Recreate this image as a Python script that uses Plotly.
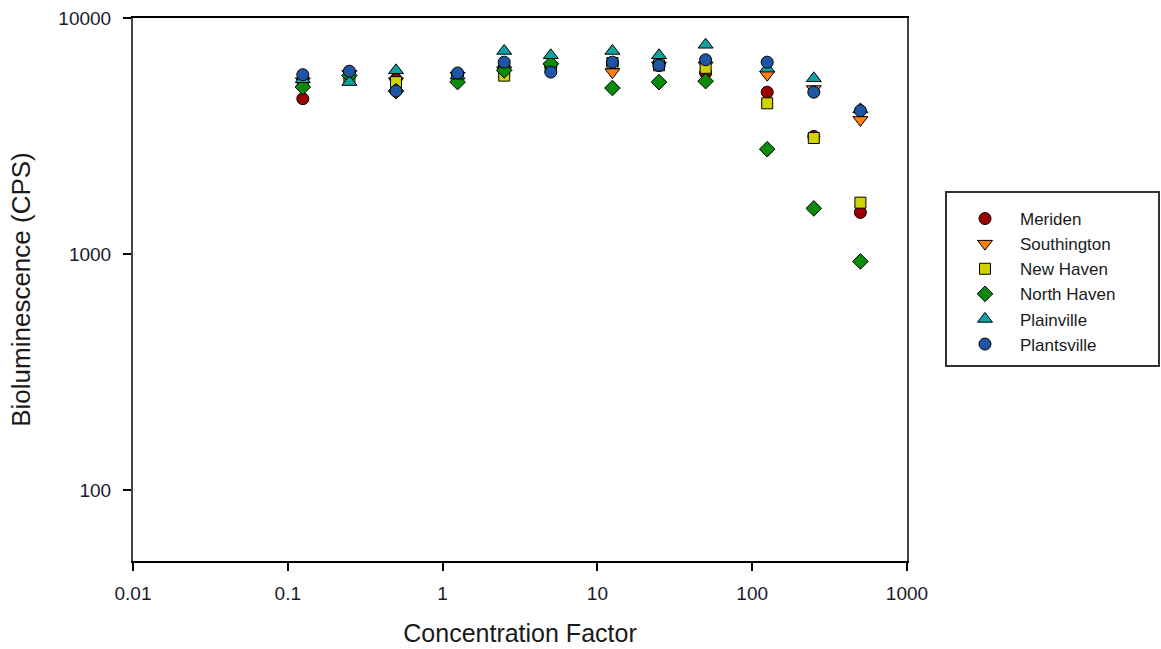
import plotly.graph_objects as go

conc = [0.125, 0.25, 0.5, 1.25, 2.5, 5, 12.5, 25, 50, 125, 250, 500]

meriden     = [4550, 5700, 5500, 5700, 6200, 6200, 6400, 6300, 5850, 4850, 3150, 1500]
southington = [5400, 5800, 5400, 5700, 6000, 6200, 5900, 6300, 6300, 5750, 5000, 3700]
new_haven   = [5300, 5600, 5350, 5650, 5700, 6150, 6450, 6300, 6150, 4350, 3100, 1650]
north_haven = [5100, 5700, 4900, 5350, 6000, 6400, 5050, 5350, 5400, 2780, 1560, 930]
plainville  = [5500, 5350, 6000, 5700, 7250, 6950, 7250, 6950, 7700, 6100, 5550, 4100]
plantsville = [5750, 5950, 4900, 5850, 6500, 5900, 6500, 6300, 6650, 6500, 4850, 4050]

series = [
    ("Meriden", meriden, "circle", "#9a0000", 12),
    ("Southington", southington, "triangle-down", "#ff7f0e", 13),
    ("New Haven", new_haven, "square", "#d2d200", 11),
    ("North Haven", north_haven, "diamond", "#0b8a0b", 12),
    ("Plainville", plainville, "triangle-up", "#12a0a0", 13),
    ("Plantsville", plantsville, "circle", "#1f55a5", 12),
]

fig = go.Figure()
for name, vals, sym, col, size in series:
    fig.add_trace(go.Scatter(
        x=conc, y=vals, mode="markers", name=name,
        marker=dict(symbol=sym, size=size, color=col,
                    line=dict(color="black", width=1)),
    ))

FONT = "Liberation Sans, Arial, sans-serif"
tick_font = dict(family=FONT, size=19, color="#1a1a2a")
title_font = dict(family=FONT, size=25, color="#1a1a1a")

# plot area in page pixels: x 133..907, y 18..561
PX0, PW, PY1, PH = 133, 774, 561, 543

def px(x):
    return (x - PX0) / PW

def py(y):
    return (PY1 - y) / PH

fig.update_layout(
    width=1161, height=649,
    margin=dict(l=133, r=254, t=18, b=88, autoexpand=False),
    paper_bgcolor="white", plot_bgcolor="white",
    font=dict(family=FONT, size=16, color="#1a1a1a"),
    showlegend=True,
    legend=dict(
        x=px(950), y=py(201), xanchor="left", yanchor="top",
        borderwidth=0, bgcolor="rgba(0,0,0,0)",
        font=dict(family=FONT, size=17, color="#1a1a1a"),
        itemwidth=60,
    ),
    shapes=[dict(
        type="rect", xref="paper", yref="paper",
        x0=px(946), x1=px(1159), y0=py(366), y1=py(192),
        line=dict(color="#333333", width=2), fillcolor="rgba(0,0,0,0)",
    )],
    xaxis=dict(
        type="log", range=[-2, 3], automargin=False,
        tickvals=[0.01, 0.1, 1, 10, 100, 1000],
        ticktext=["0.01", "0.1", "1", "10", "100", "1000"],
        ticks="outside", ticklen=8, tickcolor="black", tickwidth=1.5,
        ticklabelstandoff=6,
        showline=True, linecolor="black", linewidth=1.5, mirror=True,
        showgrid=False, zeroline=False, tickfont=tick_font,
        title=dict(text="Concentration Factor", font=title_font, standoff=22),
    ),
    yaxis=dict(
        type="log", range=[1.699, 4], automargin=False,
        tickvals=[100, 1000, 10000],
        ticktext=["100", "1000", "10000"],
        ticks="outside", ticklen=8, tickcolor="black", tickwidth=1.5,
        ticklabelstandoff=8,
        showline=True, linecolor="#444444", linewidth=2, mirror=True,
        showgrid=False, zeroline=False, tickfont=tick_font,
        title=dict(text="Bioluminescence (CPS)", font=dict(family=FONT, size=26, color="#1a1a1a"), standoff=20),
    ),
)

fig.write_html("out.html", config={"displayModeBar": False},
               post_script="document.body.style.margin='0';")
